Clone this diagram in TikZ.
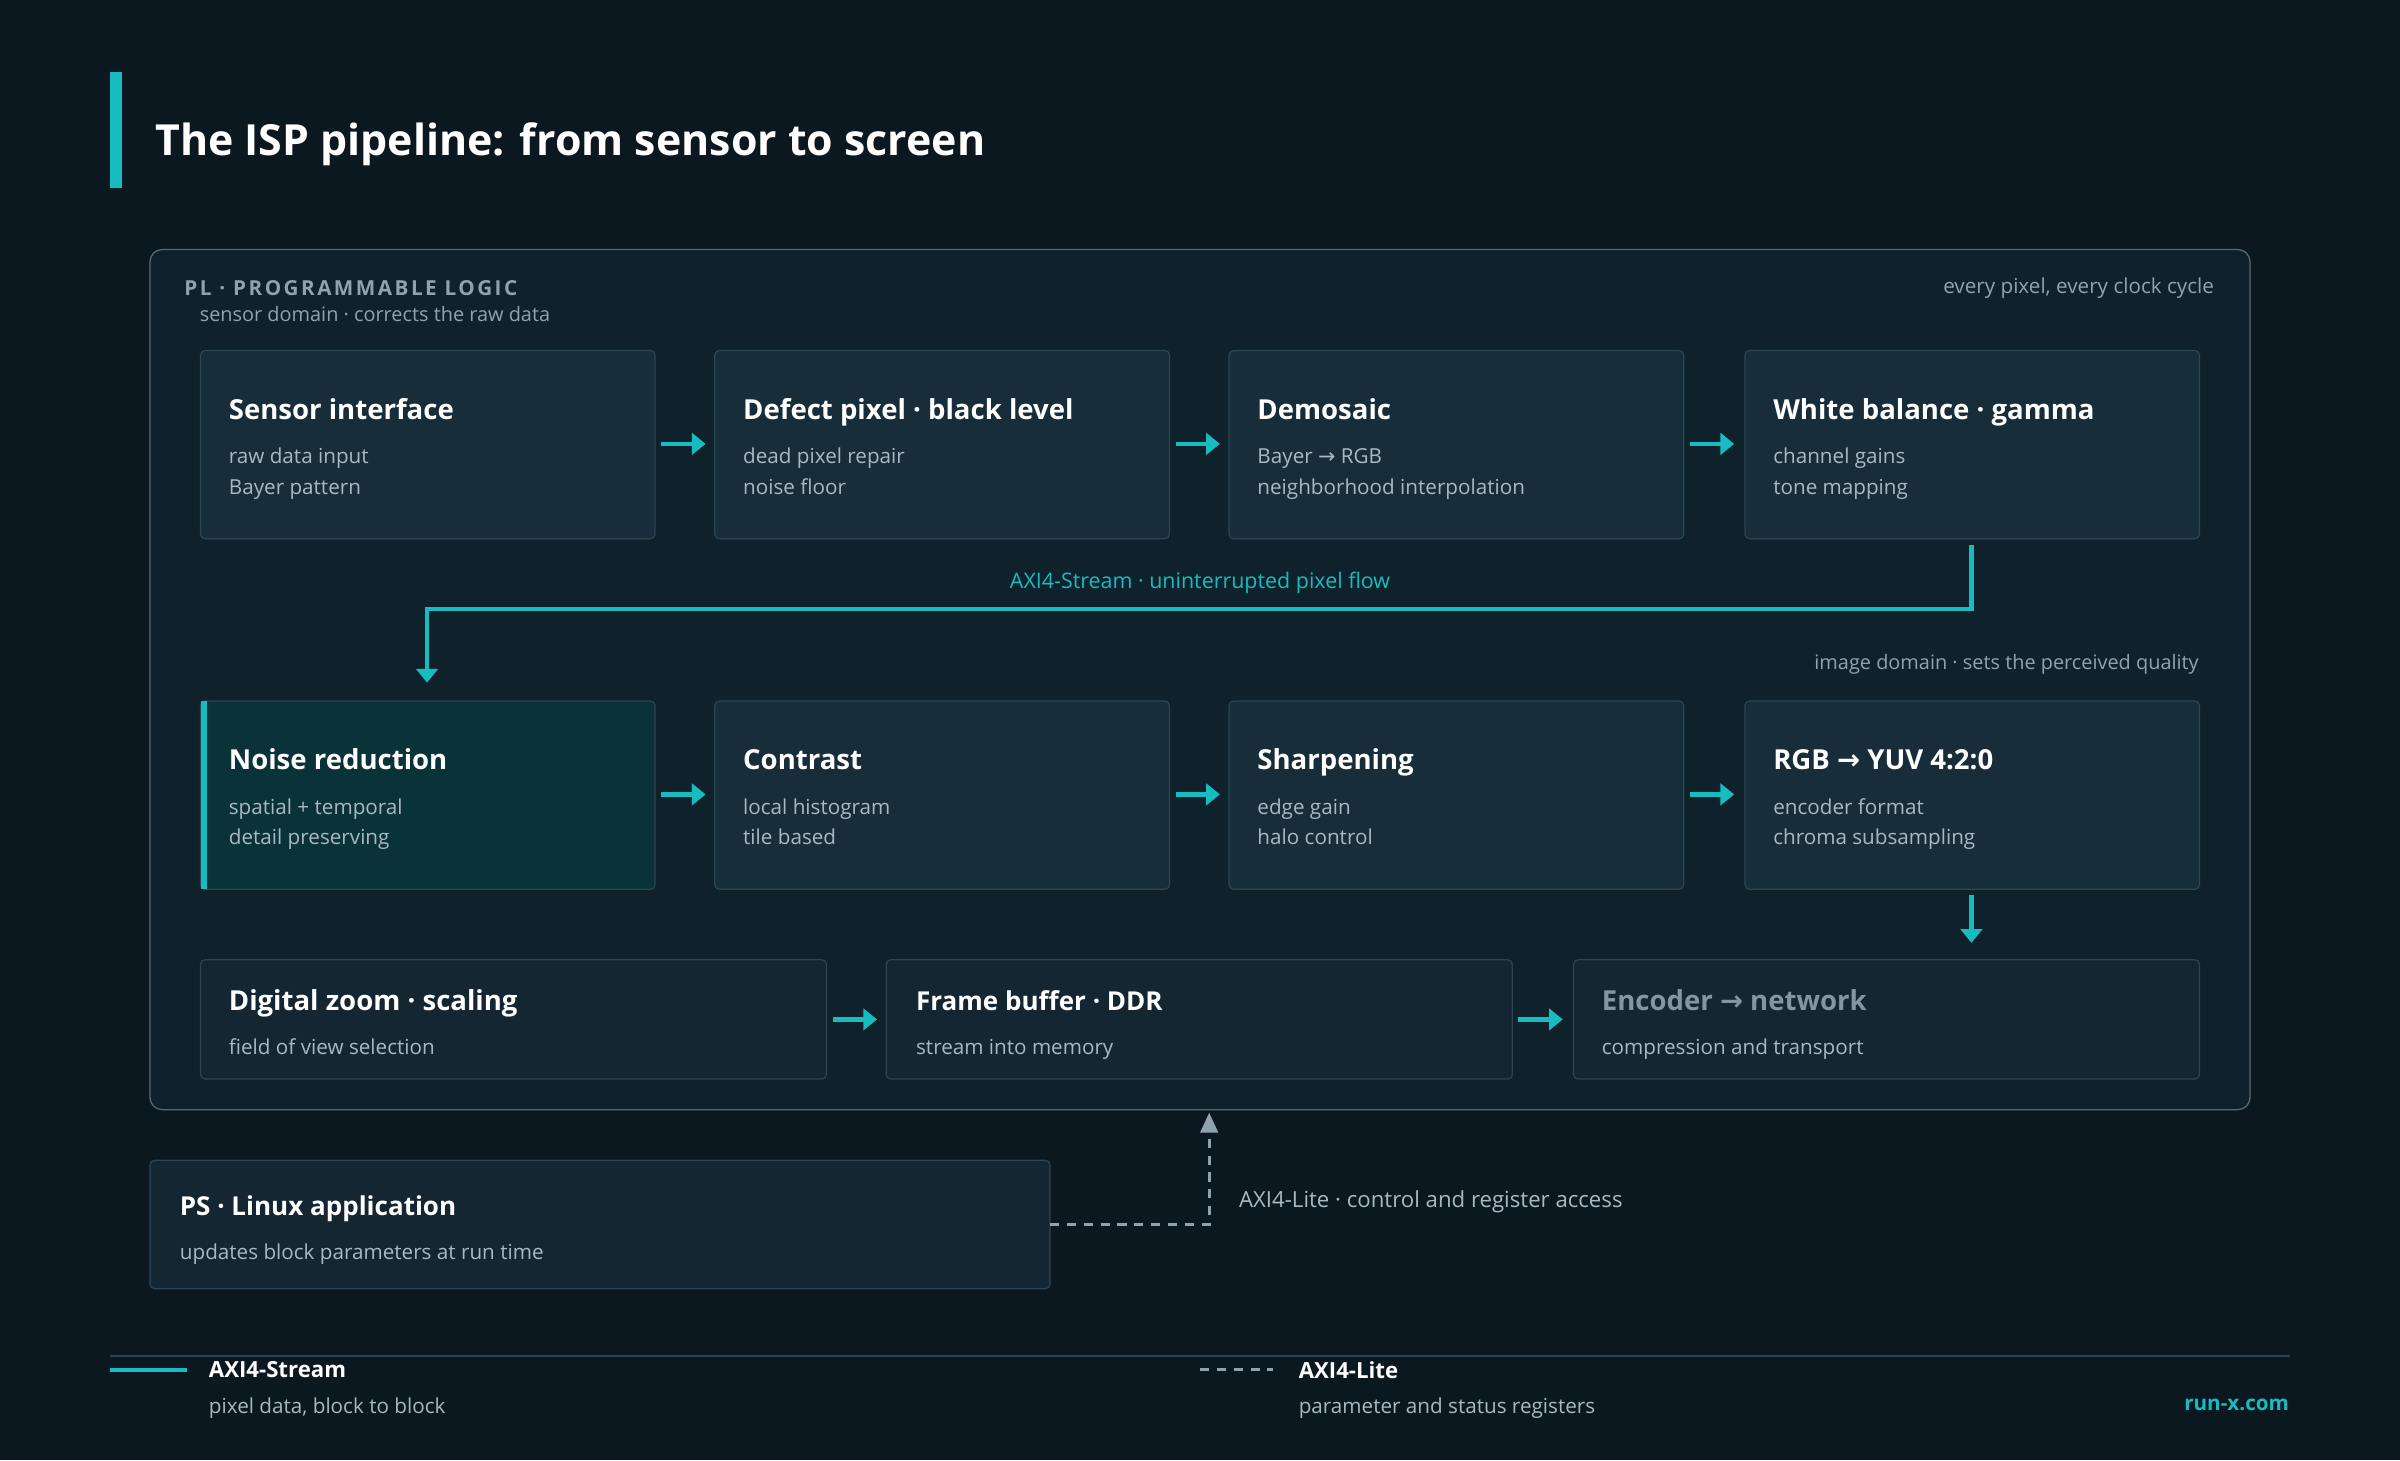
\documentclass[tikz,border=0pt]{standalone}
\usepackage{fontspec}
\setmainfont{Open Sans}
\newfontfamily\djv{DejaVu Sans}
\newcommand{\arr}{{\djv →}}
\usetikzlibrary{arrows.meta}
\definecolor{bg}{HTML}{0B1820}
\definecolor{panel}{HTML}{0F222C}
\definecolor{boxf}{HTML}{172D39}
\definecolor{boxd}{HTML}{132631}
\definecolor{bord}{HTML}{2B4553}
\definecolor{teal}{HTML}{16BCC0}
\definecolor{hil}{HTML}{0A3339}
\definecolor{sub}{HTML}{A9B9C1}
\definecolor{dim}{HTML}{8496A0}
\definecolor{lab}{HTML}{8FA3AE}
\begin{document}
\begin{tikzpicture}[x=1pt,y=-1pt,
  box/.style={draw=bord,fill=boxf,rounded corners=3pt,line width=0.8pt},
  ttl/.style={anchor=base west,text=white,font=\fontsize{18}{22}\selectfont\bfseries},
  stx/.style={anchor=base west,text=sub,font=\fontsize{13.5}{16}\selectfont,align=left},
  flow/.style={draw=teal,line width=3pt,-{Triangle[length=9pt,width=14pt]}},
  lite/.style={draw=lab,line width=2pt,dash pattern=on 6pt off 5pt}]
\fill[bg] (0,0) rectangle (1568,954);
\useasboundingbox (0,0) rectangle (1568,954);
\fill[teal] (72,47) rectangle (80,123);
\node[anchor=west,text=white,font=\fontsize{28}{34}\selectfont\bfseries] (title) at (98,94) {The ISP pipeline: from sensor to screen};
\draw[fill=panel,draw=bord!80,rounded corners=8pt,line width=0.8pt] (98,163) rectangle (1470,725);
\node[anchor=west,text=lab,font=\fontsize{13.5}{16}\selectfont\bfseries\addfontfeature{LetterSpace=12}] (pl) at (117,188) {PL · PROGRAMMABLE LOGIC};
\node[anchor=west,text=lab,font=\fontsize{13}{16}\selectfont] (pls) at (127,205) {sensor domain · corrects the raw data};
\node[anchor=east,text=lab,font=\fontsize{13.5}{16}\selectfont] (evp) at (1450,188) {every pixel, every clock cycle};
% row 1
\foreach \n/\x/\t/\a/\b in {s1/131/Sensor interface/raw data input/Bayer pattern,
 s2/467/Defect pixel · black level/dead pixel repair/noise floor,
 s3/803/Demosaic/Bayer \arr{} RGB/neighborhood interpolation,
 s4/1140/White balance · gamma/channel gains/tone mapping}{
 \draw[box] (\x,229) rectangle ++(297,123);
 \coordinate (\n) at (\x,290);
 \node[ttl] at (\x+15,274) {\t};
 \node[stx] at (\x+15,303) {\a};
 \node[stx] at (\x+15,323) {\b};}
% row 2
\draw[box,fill=hil] (131,458) rectangle ++(297,123);
\fill[teal] (131,458) rectangle (135,581);
\foreach \n/\x/\t/\a/\b in {r1/131/Noise reduction/spatial + temporal/detail preserving,
 r2/467/Contrast/local histogram/tile based,
 r3/803/Sharpening/edge gain/halo control,
 r4/1140/RGB \arr{} YUV 4:2:0/encoder format/chroma subsampling}{
 \ifnum\x>131 \draw[box] (\x,458) rectangle ++(297,123);\fi
 \coordinate (\n) at (\x,519);
 \node[ttl] at (\x+15,503) {\t};
 \node[stx] at (\x+15,532) {\a};
 \node[stx] at (\x+15,552) {\b};}
% row 3
\draw[box,fill=boxd] (131,627) rectangle (540,705);
\draw[box,fill=boxd] (579,627) rectangle (988,705);
\draw[box,fill=boxd] (1028,627) rectangle (1437,705);
\node[ttl] (z) at (146,660) {Digital zoom · scaling};
\node[stx] at (146,689) {field of view selection};
\node[ttl,font=\fontsize{17}{22}\selectfont\bfseries] (fb) at (595,660) {Frame buffer · DDR};
\node[stx] at (595,689) {stream into memory};
\node[ttl,text=dim] (enc) at (1043,660) {Encoder \arr{} network};
\node[stx] at (1043,689) {compression and transport};
% arrows
\foreach \y in {290,519}{
 \foreach \a in {432,768,1104}{\draw[flow] (\a,\y) -- (\a+29,\y);}}
\draw[flow] (544,666) -- (573,666);
\draw[flow] (992,666) -- (1021,666);
\draw[flow] (1288,585) -- (1288,616);
\draw[flow] (1288,356) -- (1288,398) -- (279,398) -- (279,446);
\node[text=teal,font=\fontsize{14}{16}\selectfont] (ax) at (784,381) {AXI4-Stream · uninterrupted pixel flow};
\node[anchor=east,text=lab,font=\fontsize{13}{16}\selectfont] (img) at (1440,434) {image domain · sets the perceived quality};
% PS
\draw[box,fill=boxd] (98,758) rectangle (686,842);
\node[ttl,font=\fontsize{17}{22}\selectfont\bfseries] (ps) at (114,794) {PS · Linux application};
\node[stx] at (114,823) {updates block parameters at run time};
\draw[lite] (686,800) -- (790,800) -- (790,740);
\fill[lab] (790,727) -- (784,740) -- (796,740) -- cycle;
\node[anchor=west,text=sub,font=\fontsize{14.5}{18}\selectfont] (al) at (806,785) {AXI4-Lite · control and register access};
% legend
\draw[bord,line width=1pt] (72,886) -- (1496,886);
\draw[teal,line width=3pt] (72,895) -- (122,895);
\node[anchor=west,text=white,font=\fontsize{14.5}{18}\selectfont\bfseries] (l1) at (133,895) {AXI4-Stream};
\node[anchor=west,text=sub,font=\fontsize{13.5}{16}\selectfont] at (133,920) {pixel data, block to block};
\draw[lite] (784,895) -- (832,895);
\node[anchor=west,text=white,font=\fontsize{14.5}{18}\selectfont\bfseries] (l2) at (845,895) {AXI4-Lite};
\node[anchor=west,text=sub,font=\fontsize{13.5}{16}\selectfont] at (845,920) {parameter and status registers};
\node[anchor=east,text=teal,font=\fontsize{13.5}{16}\selectfont\bfseries] (rx) at (1499,918) {run-x.com};
\end{tikzpicture}
\end{document}
